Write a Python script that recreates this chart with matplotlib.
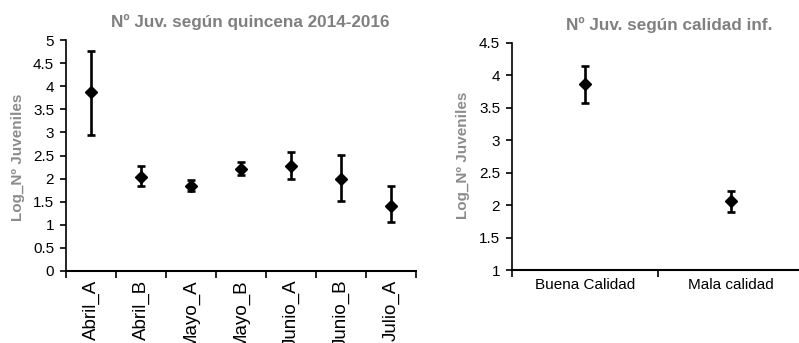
import matplotlib
matplotlib.use("Agg")
import matplotlib.pyplot as plt
import numpy as np

plt.rcParams['font.family'] = ['Liberation Sans', 'DejaVu Sans']

# Left panel data
quincenas = ["Abril_A", "Abril_B", "Mayo_A", "Mayo_B", "Junio_A", "Junio_B", "Julio_A"]
q_mean = [3.87, 2.04, 1.85, 2.21, 2.27, 2.00, 1.41]
q_low = [2.95, 1.83, 1.74, 2.08, 2.00, 1.52, 1.05]
q_high = [4.77, 2.27, 1.97, 2.36, 2.57, 2.52, 1.84]

# Right panel data
calidad = ["Buena Calidad", "Mala calidad"]
c_mean = [3.87, 2.06]
c_low = [3.58, 1.89]
c_high = [4.15, 2.22]

W, H = 799, 343
fig = plt.figure(figsize=(W / 100, H / 100), dpi=100)

title_col = '#808080'
label_col = '#8c8c8c'


def style(ax, n, ymin, ymax, ystep, labels, rot, xfs):
    ax.set_xlim(-0.5, n - 0.5)
    ax.set_ylim(ymin, ymax)
    ticks = np.arange(ymin, ymax + 1e-9, ystep)
    ax.set_yticks(ticks)
    ax.set_yticklabels([f"{t:g}" for t in ticks])
    ax.set_xticks(np.arange(-0.5, n, 1.0))
    ax.set_xticklabels([])
    ax.set_xticks(np.arange(n), minor=True)
    ax.set_xticklabels(labels, minor=True, rotation=rot,
                       ha='center', va='top', fontsize=xfs)
    ax.tick_params(axis='x', which='minor', length=0, pad=6)
    ax.tick_params(axis='x', which='major', length=5, width=1.2, direction='out')
    ax.tick_params(axis='y', length=4, width=1.2, direction='out', labelsize=11, pad=4.5)
    for s in ['top', 'right']:
        ax.spines[s].set_visible(False)
    ax.spines['left'].set_linewidth(1.2)
    ax.spines['bottom'].set_linewidth(1.5)
    ax.patch.set_alpha(0)


# Left axes
ax1 = fig.add_axes([66 / W, 1 - 271 / H, 350 / W, 231 / H])
x1 = np.arange(len(quincenas))
m1 = np.array(q_mean)
yerr1 = [m1 - np.array(q_low), np.array(q_high) - m1]
ax1.errorbar(x1, m1, yerr=yerr1, fmt='D', color='black', markersize=6,
             elinewidth=1.9, capsize=3, capthick=1.9, zorder=3, clip_on=False)
style(ax1, len(quincenas), 0, 5, 0.5, quincenas, 90, 13.5)

# Right axes
ax2 = fig.add_axes([512 / W, 1 - 270 / H, 292 / W, 227 / H])
x2 = np.arange(len(calidad))
m2 = np.array(c_mean)
yerr2 = [m2 - np.array(c_low), np.array(c_high) - m2]
ax2.errorbar(x2, m2, yerr=yerr2, fmt='D', color='black', markersize=6,
             elinewidth=1.9, capsize=3, capthick=1.9, zorder=3, clip_on=False)
style(ax2, len(calidad), 1, 4.5, 0.5, calidad, 0, 11)

# Titles
fig.text(250 / W, 1 - 22 / H, "Nº Juv. según quincena 2014-2016", ha='center', va='center',
         fontsize=12.3, fontweight='bold', color=title_col)
fig.text(669 / W, 1 - 25 / H, "Nº Juv. según calidad inf.", ha='center', va='center',
         fontsize=12.3, fontweight='bold', color=title_col)

# Y labels
fig.text(18 / W, 1 - 157 / H, "Log_Nº Juveniles", rotation=90, ha='center', va='center',
         fontsize=11, fontweight='bold', color=label_col)
fig.text(463 / W, 1 - 155 / H, "Log_Nº Juveniles", rotation=90, ha='center', va='center',
         fontsize=11, fontweight='bold', color=label_col)

fig.savefig("out.png", dpi=100)
